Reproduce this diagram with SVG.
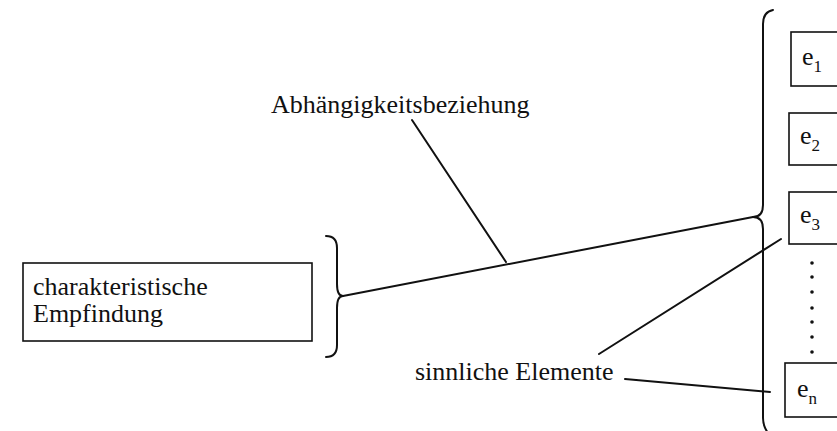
<svg xmlns="http://www.w3.org/2000/svg" width="837" height="431" viewBox="0 0 837 431">
<style>
  text { font-family: "Liberation Serif", "Times New Roman", serif; fill: #111; }
  .lbl { font-size: 26px; }
  .box { fill: #fff; stroke: #111; stroke-width: 1.6; }
  .ln { fill: none; stroke: #111; stroke-width: 2; stroke-linecap: round; stroke-linejoin: round; }
  .sub { font-size: 17px; }
  .dot { fill: #111; }
</style>
<rect width="837" height="431" fill="#fff"/>

<g id="node-empfindung">
  <rect class="box" x="23" y="263" width="289" height="78"/>
  <text class="lbl" x="33" y="295">charakteristische</text>
  <text class="lbl" x="33" y="322">Empfindung</text>
</g>

<g id="node-e1">
  <rect class="box" x="791" y="32" width="60" height="54"/>
  <text class="lbl" x="802" y="65">e<tspan class="sub" dy="7">1</tspan></text>
</g>
<g id="node-e2">
  <rect class="box" x="789" y="113" width="60" height="52"/>
  <text class="lbl" x="800" y="144">e<tspan class="sub" dy="7">2</tspan></text>
</g>
<g id="node-e3">
  <rect class="box" x="789" y="192" width="60" height="52"/>
  <text class="lbl" x="800" y="223">e<tspan class="sub" dy="7">3</tspan></text>
</g>
<g id="node-en">
  <rect class="box" x="785" y="363" width="64" height="54"/>
  <text class="lbl" x="797" y="397">e<tspan class="sub" font-size="22" dy="7">n</tspan></text>
</g>

<g id="dots">
  <circle class="dot" cx="812" cy="263" r="1.8"/>
  <circle class="dot" cx="812" cy="277" r="1.8"/>
  <circle class="dot" cx="812" cy="292" r="1.8"/>
  <circle class="dot" cx="812" cy="308" r="1.8"/>
  <circle class="dot" cx="812" cy="322" r="1.8"/>
  <circle class="dot" cx="812" cy="337" r="1.8"/>
  <circle class="dot" cx="812" cy="352" r="1.8"/>
</g>

<g id="labels">
  <text class="lbl" x="271" y="113">Abhängigkeitsbeziehung</text>
  <text class="lbl" x="415" y="380">sinnliche Elemente</text>
</g>

<g id="connectors">
  <path class="ln" d="M326,236 Q337,236 337,248 L337,284 Q337,296 343,296 Q337,296 337,308 L337,345 Q337,357 326,357"/>
  <path class="ln" d="M773,10 Q763,12 763,24 L763,205 Q763,217 753,217 Q763,217 763,229 L763,418 Q763,426 768,433"/>
  <path class="ln" d="M343,296 L753,217"/>
  <path class="ln" d="M412,120 L506,262"/>
  <path class="ln" d="M599,354 L781,239"/>
  <path class="ln" d="M625,379 Q700,386 770,392"/>
</g>
</svg>
